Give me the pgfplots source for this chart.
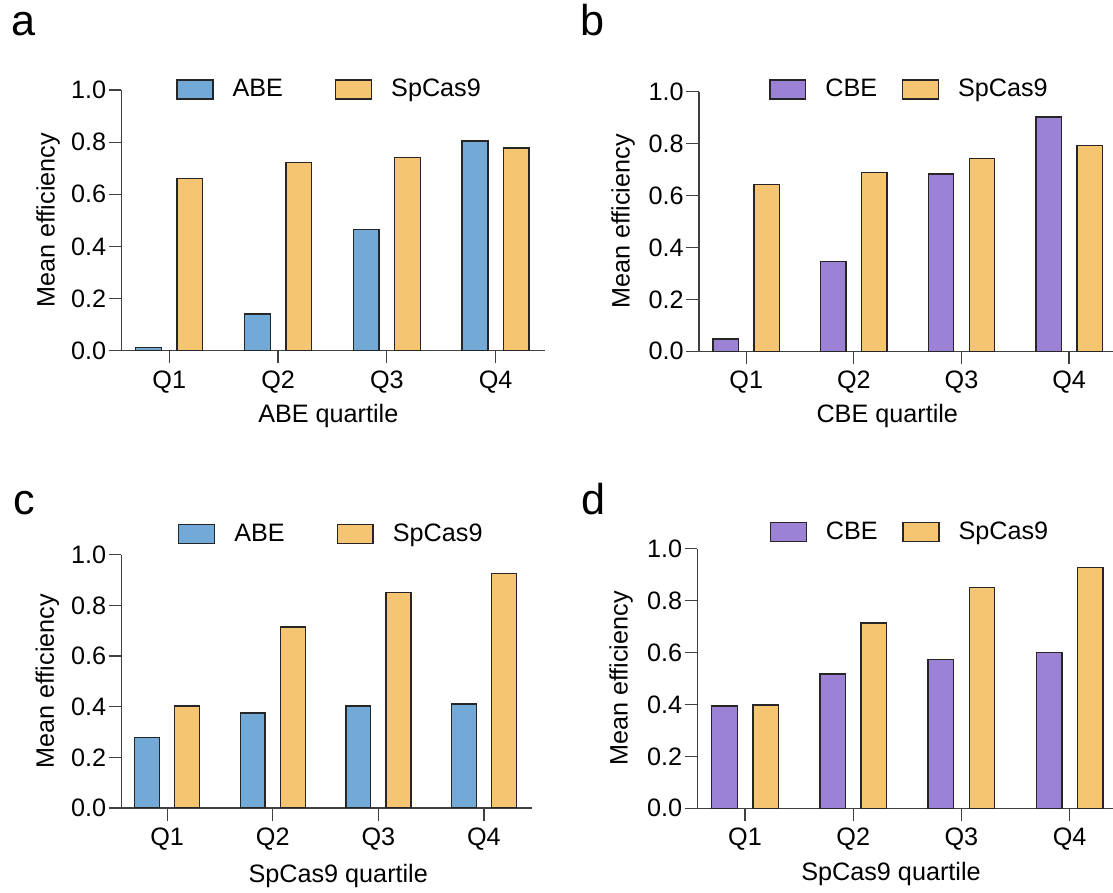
\documentclass[border=0pt]{standalone}
\usepackage{fontspec}
\setmainfont{Liberation Sans}
\usepackage{pgfplots}
\pgfplotsset{compat=1.18}

\definecolor{abeblue}{HTML}{72A9D7}
\definecolor{cbepurple}{HTML}{9C82D4}
\definecolor{casorange}{HTML}{F6C572}
\definecolor{edgegray}{HTML}{262626}
\definecolor{axisgray}{HTML}{404040}

\pgfplotsset{
  panel/.style={
    scale only axis,
    axis lines*=left,
    axis line style={axisgray, line width=0.6pt},
    xmin=0.56, xmax=4.45, ymin=0, ymax=1,
    xtick={1,2,3,4}, xticklabels={Q1,Q2,Q3,Q4},
    ytick={0,0.2,0.4,0.6,0.8,1},
    tick align=outside,
    major tick length=6.4pt,
    tick style={axisgray, line width=0.6pt},
    yticklabel style={/pgf/number format/fixed, /pgf/number format/fixed zerofill,
      /pgf/number format/precision=1, /pgf/number format/assume math mode=true, inner xsep=1pt},
    ylabel={Mean efficiency},
    font=\fontsize{12.6}{15}\selectfont,
    legend columns=2,
    legend cell align=left,
    legend style={draw=none, fill=none, inner sep=0pt, anchor=west, nodes={inner sep=0pt},
      /tikz/every odd column/.append style={column sep=9.5pt}},
  },
  barA/.style={ybar, bar width=0.236, bar shift=-0.19, fill=#1, draw=edgegray, line width=0.7pt,
    legend image code/.code={\draw[##1, line width=0.7pt] (0pt,-4.75pt) rectangle (17.9pt,4.75pt);}},
  barB/.style={ybar, bar width=0.236, bar shift=0.19, fill=casorange, draw=edgegray, line width=0.7pt,
    legend image code/.code={\draw[##1, line width=0.7pt] (0pt,-4.75pt) rectangle (17.9pt,4.75pt);}},
}

\begin{document}
\begin{tikzpicture}

% a
\begin{axis}[panel, at={(60.7pt,271.15pt)}, anchor=south west, width=211.6pt, height=130.35pt,
  xlabel={ABE quartile},
  xlabel style={at={(axis description cs:0.489,-0.276)}, anchor=base},
  ylabel style={at={(axis description cs:-0.173,0.5)}, anchor=center},
  legend style={at={(axis description cs:0.129,1.002)},
    /tikz/every even column/.append style={column sep=26pt}}]
\addplot[barA=abeblue] coordinates {(1,0.013) (2,0.141) (3,0.465) (4,0.804)};
\addplot[barB] coordinates {(1,0.660) (2,0.722) (3,0.742) (4,0.778)};
\legend{ABE, SpCas9}
\end{axis}

% b
\begin{axis}[panel, at={(349.45pt,270.85pt)}, anchor=south west, width=209.3pt, height=129.8pt,
  xlabel={CBE quartile},
  xlabel style={at={(axis description cs:0.45,-0.275)}, anchor=base},
  ylabel style={at={(axis description cs:-0.181,0.5)}, anchor=center},
  legend style={at={(axis description cs:0.167,1.009)},
    /tikz/every even column/.append style={column sep=12.3pt}}]
\addplot[barA=cbepurple] coordinates {(1,0.047) (2,0.345) (3,0.683) (4,0.902)};
\addplot[barB] coordinates {(1,0.643) (2,0.688) (3,0.743) (4,0.793)};
\legend{CBE, SpCas9}
\end{axis}

% c
\begin{axis}[panel, at={(60.7pt,42.5pt)}, anchor=south west, width=205.35pt, height=126.65pt,
  xmin=0.567, xmax=4.456,
  xlabel={SpCas9 quartile},
  xlabel style={at={(axis description cs:0.528,-0.296)}, anchor=base},
  ylabel style={at={(axis description cs:-0.180,0.5)}, anchor=center},
  legend style={at={(axis description cs:0.137,1.082)},
    /tikz/every even column/.append style={column sep=26pt}}]
\addplot[barA=abeblue] coordinates {(1,0.278) (2,0.375) (3,0.403) (4,0.411)};
\addplot[barB] coordinates {(1,0.403) (2,0.714) (3,0.850) (4,0.926)};
\legend{ABE, SpCas9}
\end{axis}

% d
\begin{axis}[panel, at={(348.7pt,42.35pt)}, anchor=south west, width=210.45pt, height=129.8pt,
  xlabel={SpCas9 quartile},
  xlabel style={at={(axis description cs:0.46,-0.28)}, anchor=base},
  ylabel style={at={(axis description cs:-0.181,0.5)}, anchor=center},
  legend style={at={(axis description cs:0.171,1.065)},
    /tikz/every even column/.append style={column sep=12.3pt}}]
\addplot[barA=cbepurple] coordinates {(1,0.394) (2,0.517) (3,0.574) (4,0.601)};
\addplot[barB] coordinates {(1,0.398) (2,0.714) (3,0.851) (4,0.928)};
\legend{CBE, SpCas9}
\end{axis}

% panel letters
\node[anchor=base west, inner sep=0pt, font=\fontsize{21.6}{24}\selectfont] at (5.4pt,428.65pt) {a};
\node[anchor=base west, inner sep=0pt, font=\fontsize{21.6}{24}\selectfont] at (290.2pt,428.5pt) {b};
\node[anchor=base west, inner sep=0pt, font=\fontsize{21.6}{24}\selectfont] at (6.3pt,189pt) {c};
\node[anchor=base west, inner sep=0pt, font=\fontsize{21.6}{24}\selectfont] at (290.5pt,189pt) {d};

\pgfresetboundingbox
\useasboundingbox (0,0) rectangle (556.5pt,446.5pt);
\end{tikzpicture}
\end{document}
